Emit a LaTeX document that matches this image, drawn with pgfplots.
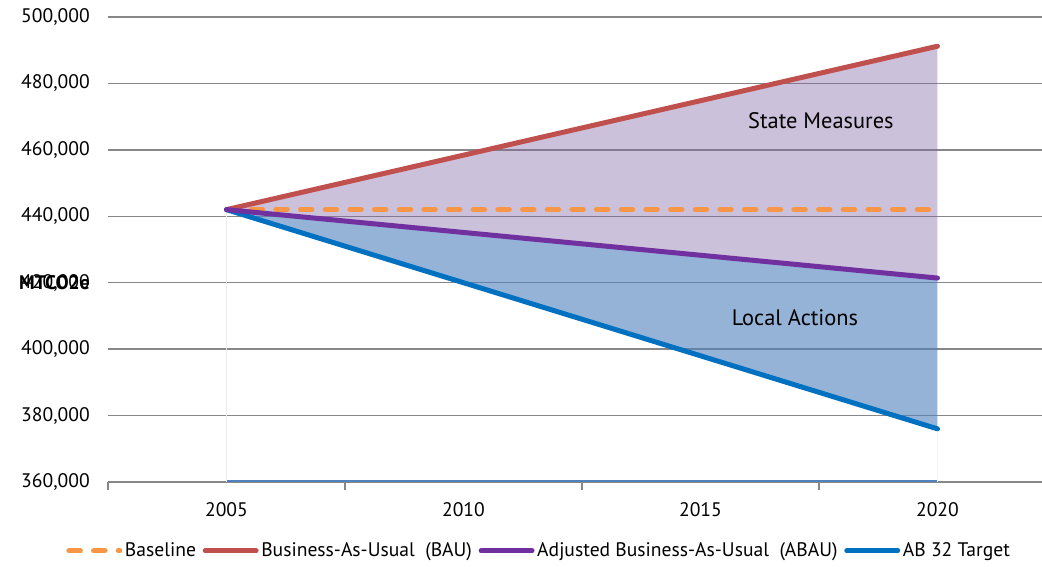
\documentclass[border=0pt]{standalone}
\usepackage{fontspec}
\setmainfont{PT Sans}
\usepackage{pgfplots}
\pgfplotsset{compat=1.18}
\definecolor{cOrange}{HTML}{F79646}
\definecolor{cRed}{HTML}{C0504D}
\definecolor{cPurple}{HTML}{7030A0}
\definecolor{cBlue}{HTML}{0070C0}
\definecolor{fPurple}{HTML}{8064A2}
\definecolor{fBlue}{HTML}{4F81BD}
\definecolor{gridgray}{HTML}{878787}
\newcommand{\fs}{\fontsize{14.7pt}{17pt}\selectfont}
\newcommand{\fl}{\fontsize{16.8pt}{19pt}\selectfont}
\begin{document}
\fs
\begin{tikzpicture}
\useasboundingbox (-81pt,-63.75pt) rectangle (700.5pt,361.5pt);
\begin{axis}[
  at={(0pt,0pt)}, anchor=south west,
  scale only axis, width=700.5pt, height=348.75pt,
  xmin=0, xmax=3.941, ymin=360000, ymax=500000,
  ytick={360000,380000,...,500000},
  ymajorgrids, grid style={color=gridgray, line width=1.1pt},
  axis x line*=bottom, axis y line*=left,
  y axis line style={draw=none},
  x axis line style={draw=gridgray, line width=1.1pt, -},
  ytick style={draw=none},
  xtick style={draw=gridgray, line width=1.1pt},
  major tick length=0pt,
  tick align=outside,
  xtick={0.5,1.5,2.5,3.5},
  xticklabels={2005,2010,2015,2020},
  extra x ticks={0,1,2,3},
  extra x tick labels={\ ,\ ,\ ,\ },
  extra x tick style={major tick length=6pt},
  scaled y ticks=false,
  yticklabel={\pgfmathprintnumber[assume math mode=true,1000 sep={,},fixed]{\tick}},
  yticklabel style={anchor=east, inner sep=0pt, xshift=-13.5pt},
  xticklabel style={inner sep=0pt, anchor=north, yshift=-15pt},
  tick label style={font=\fs},
  legend style={at={(axis description cs:0.462,-0.148)}, anchor=center, draw=none, legend columns=-1, font=\fs, inner sep=0pt, /tikz/every even column/.append style={column sep=3pt}},
  legend cell align=left,
  legend image code/.code={\draw[#1, line width=3.75pt, line cap=round] (1.4pt,0pt) -- (39.6pt,0pt);},
  clip=false,
]
% areas
\addplot[fill=fPurple, fill opacity=0.4, draw=none, forget plot] coordinates {(0.5,442000) (3.5,491200) (3.5,421400)} -- cycle;
\addplot[fill=fBlue, fill opacity=0.6, draw=none, forget plot] coordinates {(0.5,442000) (3.5,421400) (3.5,376000)} -- cycle;
\addplot[fBlue, line width=0.8pt, forget plot] coordinates {(0.5,360300) (3.5,360300)};
\addplot[gray!15, line width=0.5pt, forget plot] coordinates {(0.5,360000) (0.5,442000)};
\addplot[blue!6, line width=0.5pt, forget plot] coordinates {(3.5,360000) (3.5,376000)};
% lines
\addplot[cOrange, line width=3.75pt, line cap=round, dash pattern=on 8.6pt off 9.9pt] coordinates {(0.5,442000) (3.5,442000)};
\addlegendentry{Baseline\hspace{11pt}}
\addplot[cRed, line width=3.75pt, line cap=round] coordinates {(0.5,442000) (3.5,491200)};
\addlegendentry{Business-As-Usual\ \ (BAU)\hspace{11pt}}
\addplot[cBlue, line width=3.75pt, line cap=round, forget plot] coordinates {(0.5,442000) (3.5,376000)};
\addplot[cPurple, line width=3.75pt, line cap=round] coordinates {(0.5,442000) (3.5,421400)};
\addlegendentry{Adjusted Business-As-Usual\ \ (ABAU)\hspace{11pt}}
\addlegendimage{cBlue}
\addlegendentry{AB 32 Target}
\node[font=\fl] at (axis cs:3.008,468700) {State Measures};
\node[font=\fl] at (axis cs:2.899,409500) {Local Actions};
\node[anchor=east, inner sep=0pt, font=\fs\bfseries] at (rel axis cs:0,0.4286) [xshift=-13.5pt] {MTCO2e};
\end{axis}
\end{tikzpicture}
\end{document}
